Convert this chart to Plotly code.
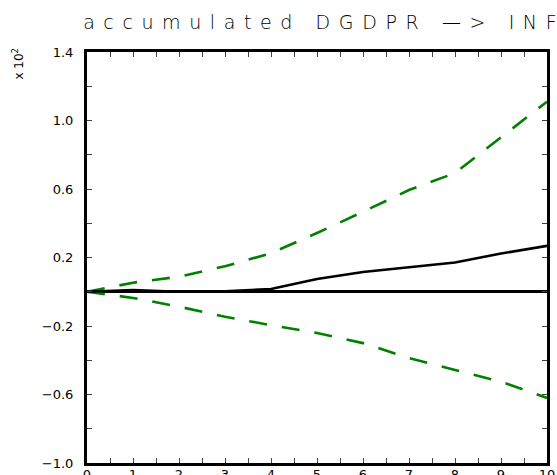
import plotly.graph_objects as go

steps = list(range(11))
response = [0.0, 0.010, 0.0, 0.003, 0.016, 0.074, 0.115, 0.145, 0.171, 0.223, 0.268]
upper = [0.0, 0.053, 0.088, 0.149, 0.225, 0.343, 0.467, 0.594, 0.693, 0.90, 1.11]
lower = [0.0, -0.036, -0.087, -0.146, -0.195, -0.241, -0.30, -0.387, -0.457, -0.525, -0.62]

y_tickvals = [-1.0, -0.8, -0.6, -0.4, -0.2, 0.0, 0.2, 0.4, 0.6, 0.8, 1.0, 1.2, 1.4]
y_ticktext = ["\u22121.0", "", "\u22120.6", "", "\u22120.2", "", "0.2", "", "0.6", "", "1.0", "", "1.4"]
x_tickvals = [i * 0.5 for i in range(21)]
x_ticktext = [str(int(v)) if v == int(v) else "" for v in x_tickvals]

fig = go.Figure()
fig.add_trace(go.Scatter(x=steps, y=upper, mode="lines",
                         line=dict(color="#008000", width=2.6, dash="18px,15px")))
fig.add_trace(go.Scatter(x=steps, y=lower, mode="lines",
                         line=dict(color="#008000", width=2.6, dash="18px,15px")))
fig.add_trace(go.Scatter(x=steps, y=response, mode="lines",
                         line=dict(color="black", width=2.6)))

axis_font = dict(family="DejaVu Sans", size=13, color="black")
fig.update_xaxes(range=[0, 10], tickvals=x_tickvals, ticktext=x_ticktext,
                 ticks="inside", ticklen=5, tickwidth=1, tickcolor="#444",
                 showline=True, linecolor="black", linewidth=3, mirror="allticks",
                 showgrid=False, zeroline=False, tickfont=axis_font,
                 automargin=False, ticklabelstandoff=-3)
fig.update_yaxes(range=[-1.0, 1.4], tickvals=y_tickvals, ticktext=y_ticktext,
                 ticks="inside", ticklen=5, tickwidth=1, tickcolor="#444",
                 showline=True, linecolor="black", linewidth=3, mirror="allticks",
                 showgrid=False, zeroline=True, zerolinecolor="black", zerolinewidth=3,
                 tickfont=axis_font, automargin=False, ticklabelstandoff=8)

fig.update_layout(
    width=557, height=475,
    margin=dict(l=87, r=10, t=52, b=12),
    paper_bgcolor="white", plot_bgcolor="white",
    showlegend=False,
    title=dict(text="accumulated DGDPR \u2014> INF", x=0.582, xanchor="center",
               y=0.953, yanchor="middle", automargin=False,
               font=dict(family="DejaVu Sans", size=19, color="black")),
    annotations=[dict(text="x 10<sup>2</sup>", xref="paper", yref="paper",
                      x=-0.152, y=0.972, xanchor="center", yanchor="middle",
                      textangle=-90, showarrow=False,
                      font=dict(family="DejaVu Sans", size=12, color="black"))],
)

post = """
document.body.style.margin = '0';
document.body.style.padding = '0';
var t = document.querySelector('.gtitle');
if (t) { t.style.letterSpacing = '8.6px'; t.style.fontWeight = '300'; }
"""
fig.write_html("out.html", post_script=post, config={"displayModeBar": False})
